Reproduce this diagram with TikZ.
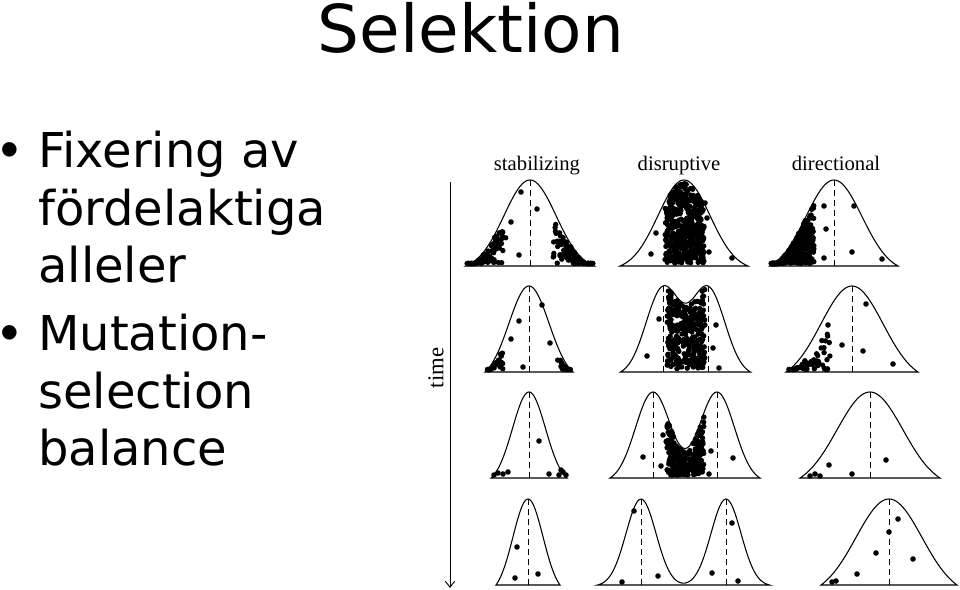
\documentclass[tikz,border=0pt]{standalone}
\usepackage{fontspec}
\usetikzlibrary{arrows.meta}
\newfontfamily\slidefont{DejaVu Sans}
\newfontfamily\dotfont{Liberation Sans}
\newfontfamily\figfont{Liberation Serif}
\tikzset{
  declare function={
    gau(\xx,\ss)=exp(-0.5*((\xx)/(\ss))^2);
    crv(\xx,\ss,\dd,\ww)=(gau(\xx-\dd/2,\ss)+gau(\xx+\dd/2,\ss)-gau(\ww-\dd/2,\ss)-gau(\ww+\dd/2,\ss))/(1+gau(\dd,\ss)-gau(\ww-\dd/2,\ss)-gau(\ww+\dd/2,\ss));
  },
  curve/.style={line width=0.8pt},
  mean/.style={line width=0.75pt,dash pattern=on 4.5pt off 3pt},
  header/.style={anchor=base,inner sep=0pt,font=\figfont\fontsize{15.5}{18}\selectfont},
  bullettext/.style={anchor=base west,inner sep=0pt,font=\slidefont\fontsize{36}{42}\selectfont},
  bulletdot/.style={anchor=base west,inner sep=0pt,font=\dotfont\fontsize{40}{44}\selectfont}
}
% panel: mitt, baslinje, sigma, avstand mellan topparna, halvbredd
\newcommand{\setpanel}[5]{\def\pcx{#1}\def\pby{#2}\def\psig{#3}\def\pdd{#4}\def\pww{#5}}
\newcommand{\bellcurve}{\draw[curve] plot[domain=-\pww:\pww,samples=91,smooth] ({\pcx+\x},{\pby-86*crv(\x,\psig,\pdd,\pww)}) -- cycle;}
\newcommand{\meanline}[1]{\draw[mean] (#1,\pby) -- (#1,{\pby-86*crv(#1-\pcx,\psig,\pdd,\pww)});}
\newcommand{\dotcloud}[4]{\foreach \k in {1,...,#1}{%
  \pgfmathsetmacro\qx{#2+rnd*(#3-#2)}%
  \pgfmathsetmacro\qh{max(86*#4*crv(\qx-\pcx,\psig,\pdd,\pww)-5,0)}%
  \fill (\qx,{\pby-2.5-rnd*\qh}) circle[radius=2.7];}}
\newcommand{\dotsat}[1]{\foreach \qx/\qh in {#1}{\fill (\qx,{\pby-\qh}) circle[radius=2.8];}}
\begin{document}
\begin{tikzpicture}[x=0.75pt,y=-0.75pt]
  \useasboundingbox (0,0) rectangle (960,589);
  \pgfmathsetseed{2024}
  \node[anchor=base,inner sep=0pt,font=\slidefont\fontsize{49.5}{58}\selectfont] (title) at (471,52) {Selektion};
  \node[bulletdot] (bu1) at (0,167) {•};
  \node[bullettext] (fix1) at (38,167) {Fixering av};
  \node[bullettext] (fix2) at (38,225) {fördelaktiga};
  \node[bullettext] (fix3) at (38,282) {alleler};
  \node[bulletdot] (bu2) at (0,350) {•};
  \node[bullettext] (mut1) at (38,350) {Mutation-};
  \node[bullettext] (mut2) at (38,408) {selection};
  \node[bullettext] (mut3) at (38,465) {balance};
  % rubriker
  \node[header] (stab) at (537,170) {stabilizing};
  \node[header] (disr) at (679,170) {disruptive};
  \node[header] (dirc) at (836,170) {directional};
  % tidsaxel
  \coordinate (ttop) at (450,182);
  \coordinate (tend) at (450,588);
  \draw[line width=0.7pt,-{Straight Barb[length=4.5pt,width=7pt]}] (ttop) -- (tend);
  \node[rotate=90,inner sep=0pt,font=\figfont\fontsize{17}{20}\selectfont] (timelabel) at (436,368) {time};
  % rad 1
  \setpanel{530}{266}{26}{0}{64}\bellcurve\meanline{530}
  \dotcloud{110}{467}{506}{1}\dotcloud{115}{553}{593}{1}
  \dotsat{521/74,537/57,511/44,519/11}
  \setpanel{684}{266}{26}{0}{64}\bellcurve
  \dotcloud{450}{665}{704}{1}
  \dotsat{656/33,651/12,705/63,707/48,709/14,732/8}
  \setpanel{834}{266}{28}{0}{64}\bellcurve\meanline{834}
  \dotcloud{380}{771}{814}{1}
  \dotsat{824/60,854/60,826/37,852/14,824/8,882/7}
  % rad 2
  \setpanel{529}{372}{20}{0}{44}\bellcurve\meanline{529}
  \dotcloud{30}{486}{503}{0.8}\dotcloud{20}{556}{571}{0.8}
  \dotsat{542/67,519/51,511/33,550/29,523/5}
  \setpanel{685.5}{372}{17}{45}{65}\bellcurve\meanline{663}\meanline{708}
  \dotcloud{300}{667}{705}{1}
  \dotsat{659/53,647/16,716/47,713/24,719/4}
  \setpanel{852}{372}{31}{0}{66}\bellcurve\meanline{852}
  \dotcloud{55}{789}{830}{0.7}
  \dotsat{866/68,828/47,842/27,863/21,893/8,825/3}
  % rad 3
  \setpanel{529}{478}{16.5}{0}{38}\bellcurve\meanline{529}
  \dotsat{539/37,494/3,498/5,503/4,508/6,549/4,559/3,563/6,566/3,561/8}
  \setpanel{685}{478}{17.5}{64}{75}\bellcurve\meanline{653}\meanline{717}
  \dotcloud{230}{666}{704}{1}
  \dotsat{643/21,661/12,663/43,711/27,733/20,709/4}
  \setpanel{870}{478}{33}{0}{70}\bellcurve\meanline{870}
  \dotsat{810/2,815/4,820/2,829/13,852/4,886/18}
  % rad 4
  \setpanel{528}{585}{15}{0}{32}\bellcurve\meanline{528}
  \dotsat{517/38,515/7,538/11}
  \setpanel{683.5}{585}{15}{85}{86}\bellcurve\meanline{641}\meanline{726}
  \dotsat{634/74,658/9,622/3,732/62,712/12,738/4}
  \setpanel{889}{585}{33}{0}{68}\bellcurve\meanline{889}
  \dotsat{898/66,889/53,876/32,913/26,857/11,836/4,832/3}
\end{tikzpicture}
\end{document}
